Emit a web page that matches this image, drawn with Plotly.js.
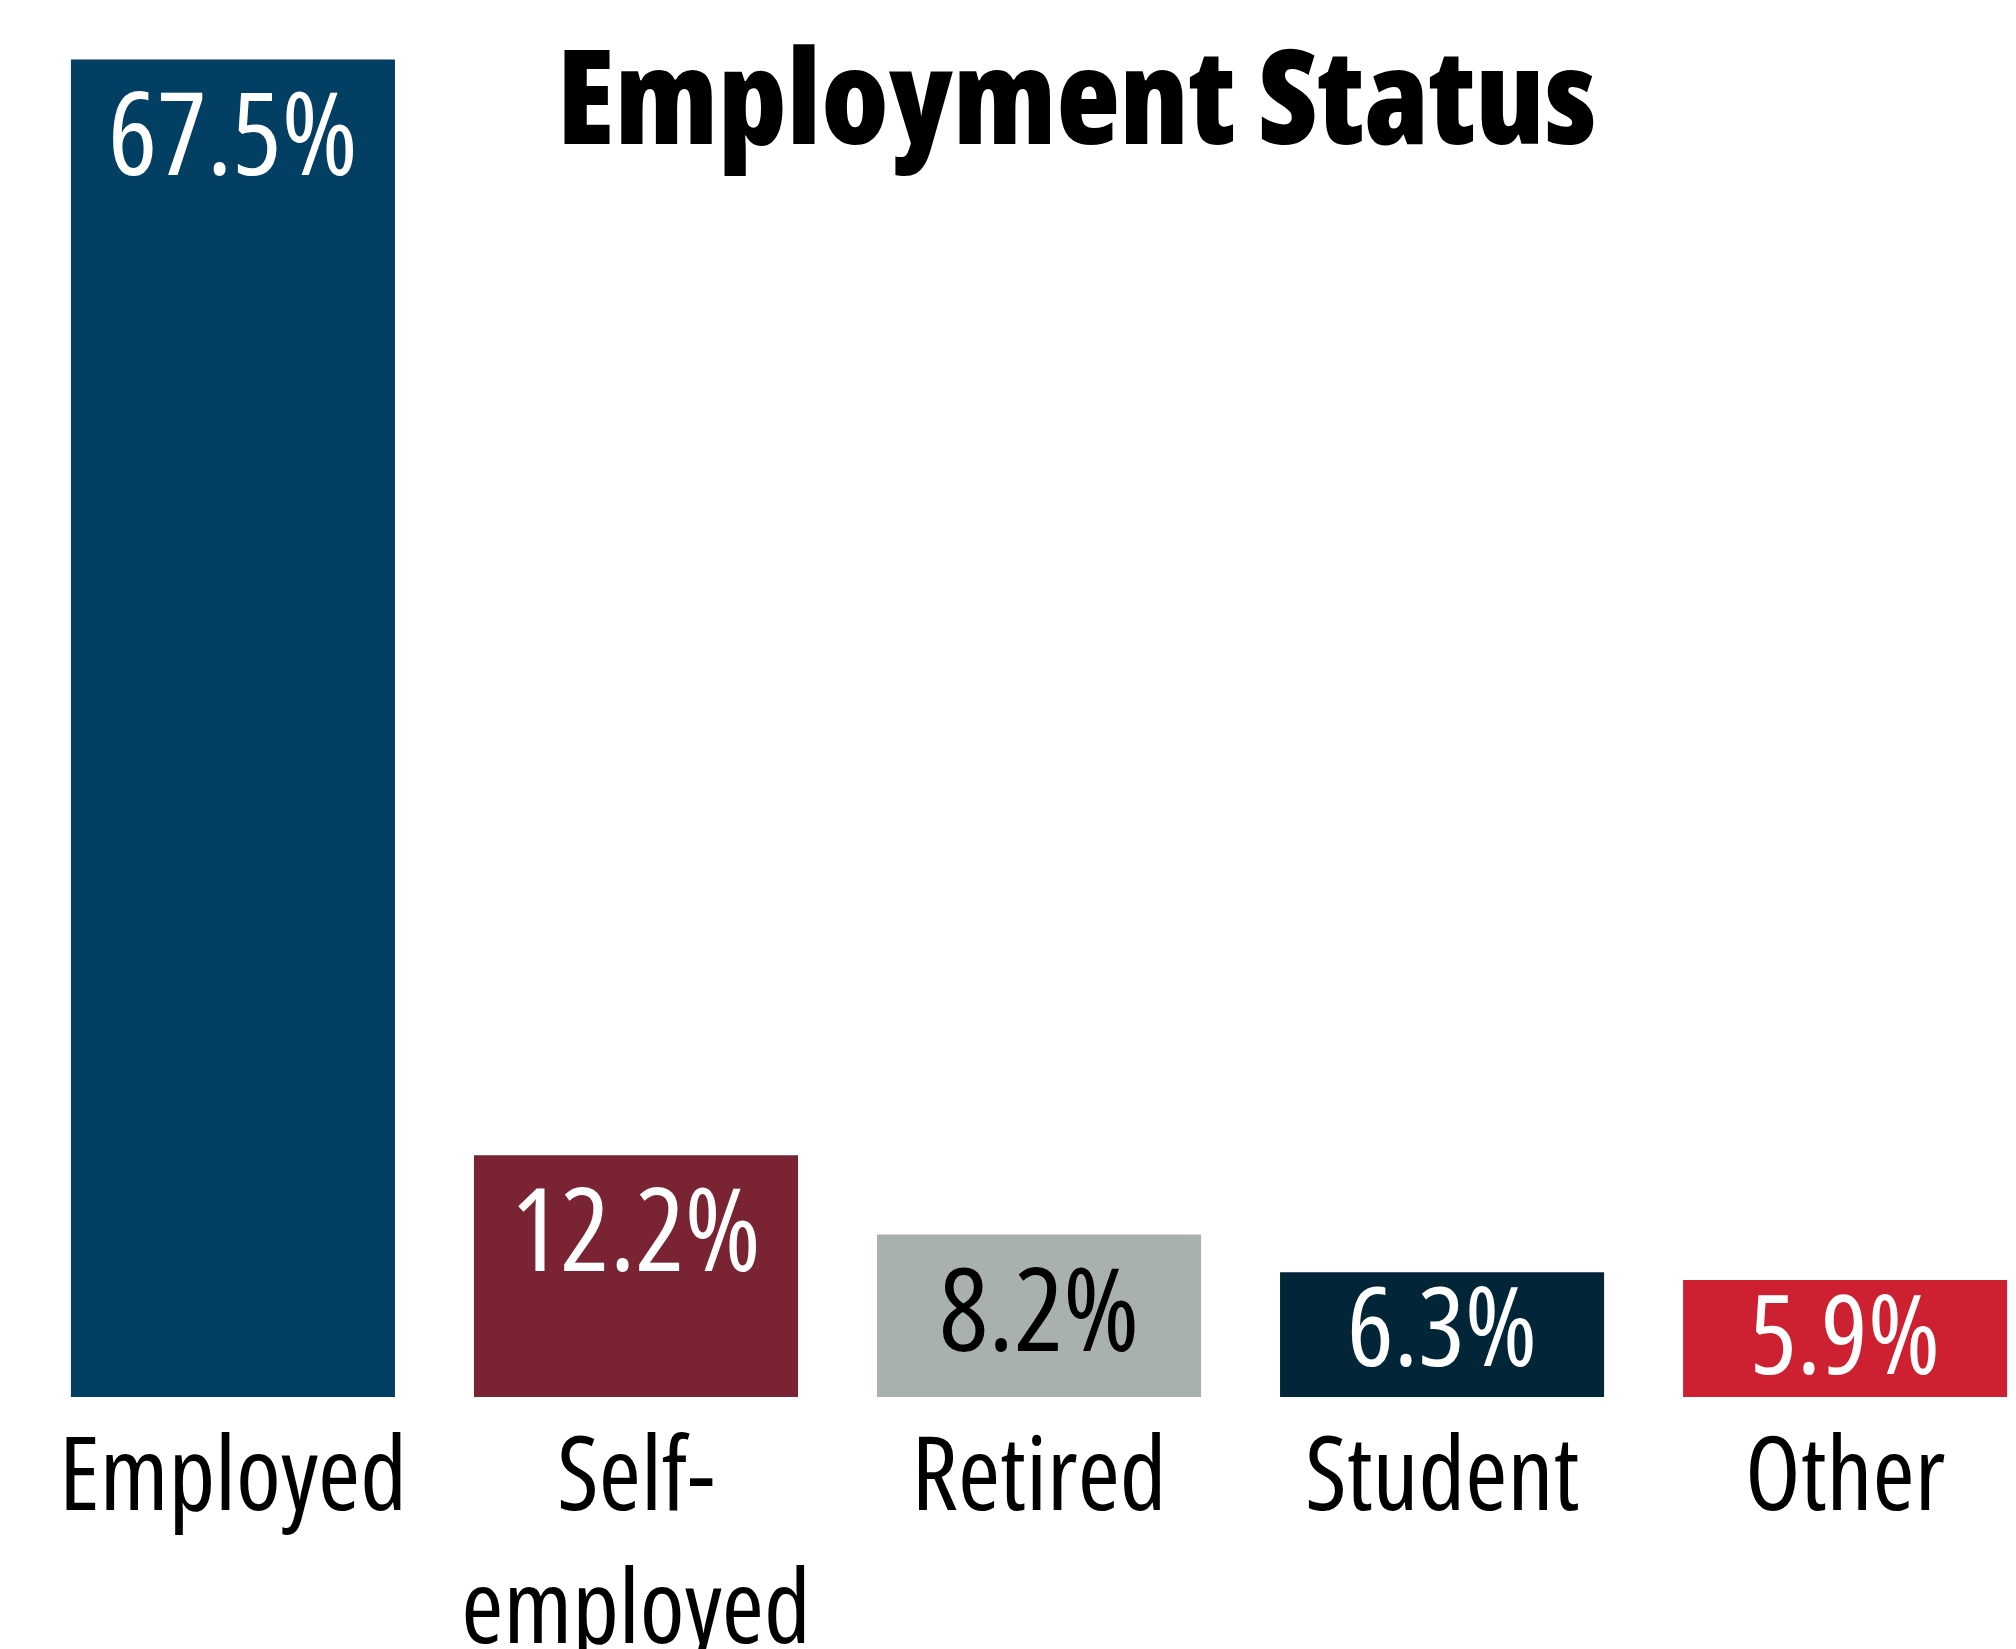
<!DOCTYPE html>
<html>
<head>
<meta charset="utf-8">
<script src="https://cdn.plot.ly/plotly-3.0.1.min.js"></script>
<style>
  html, body { margin: 0; padding: 0; background: #fff; }
  #chart { width: 2016px; height: 1649px; }
  /* condensed cut of the variable Open Sans, closest to the original's narrow face */
  svg text { font-stretch: 75% !important; }
</style>
</head>
<body>
<div id="chart"></div>
<script>
const categories = ['Employed', 'Self-<br>employed', 'Retired', 'Student', 'Other'];
const shares = [67.5, 12.2, 8.2, 6.3, 5.9];
const barColors = ['#033f63', '#792333', '#a9b1ae', '#022637', '#cd2030'];
const labelColors = ['#ffffff', '#ffffff', '#000000', '#ffffff', '#ffffff'];

const FONT = '"Open Sans", sans-serif';

const trace = {
  type: 'bar',
  x: categories,
  y: shares,
  marker: { color: barColors, line: { width: 0 } },
  hoverinfo: 'x+y',
  showlegend: false,
};

// value labels sit just under the top of each bar; short bars get them pushed up a bit
const valueLabels = shares.map((v, i) => ({
  x: categories[i],
  y: v,
  xref: 'x',
  yref: 'y',
  yanchor: 'top',
  yshift: v < 7 ? 26 : 10,
  text: v.toFixed(1) + '%',
  showarrow: false,
  font: { family: FONT, size: v < 7 ? 110 : 116, weight: 500, color: labelColors[i] },
}));

const layout = {
  width: 2016,
  height: 1649,
  paper_bgcolor: 'white',
  plot_bgcolor: 'white',
  margin: { l: 0, r: 0, t: 0, b: 252 },
  bargap: 0.196,
  title: {
    text: 'Employment Status',
    font: { family: FONT, size: 131, weight: 800, color: '#000' },
    x: 0.534,
    xanchor: 'center',
    y: 1,
    yref: 'container',
    yanchor: 'top',
    pad: { t: 52 },
  },
  xaxis: {
    range: [-0.578, 4.424],
    showgrid: false,
    zeroline: false,
    showline: false,
    ticks: '',
    tickangle: 0,
    tickfont: { family: FONT, size: 102, weight: 500, color: '#000' },
    ticklabelstandoff: 10,
  },
  yaxis: {
    range: [0, 70.5],
    visible: false,
    showgrid: false,
    zeroline: false,
  },
  annotations: valueLabels,
};

Plotly.newPlot('chart', [trace], layout, { displayModeBar: false });
</script>
</body>
</html>
